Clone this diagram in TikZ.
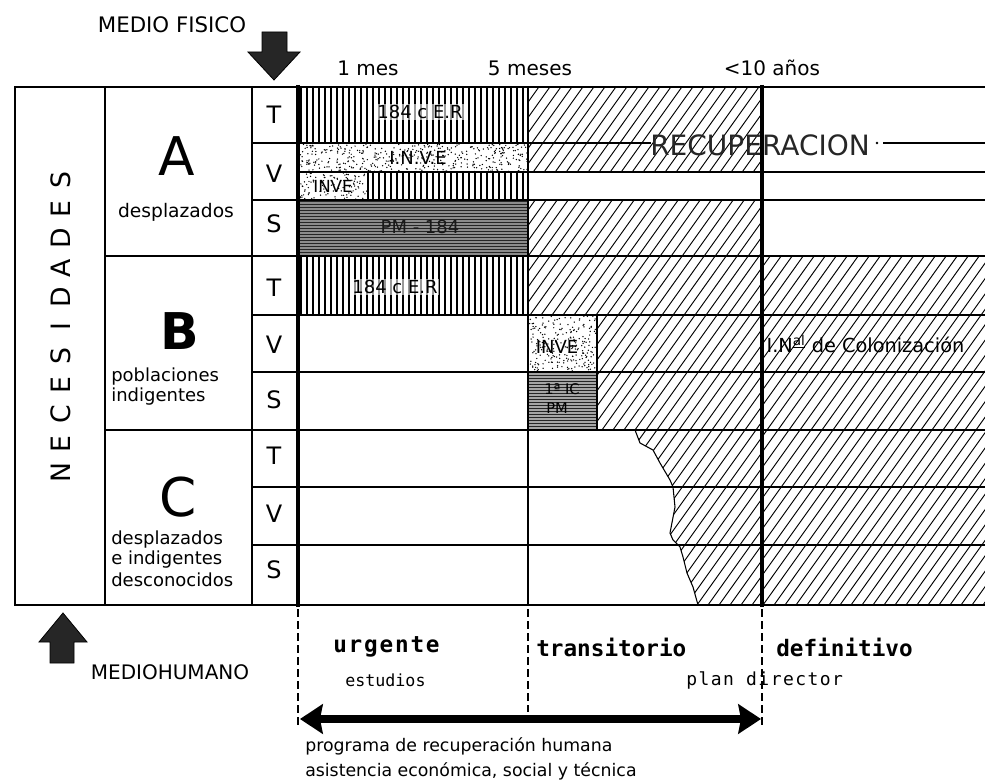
\documentclass[tikz,border=0pt]{standalone}
\usepackage{fontspec}
\setmainfont{DejaVu Sans}
\newfontfamily\monof{DejaVu Sans Mono}
\newfontfamily\monosp[LetterSpace=8]{DejaVu Sans Mono}
\usetikzlibrary{arrows.meta}
\newcommand\fsz[1]{\fontsize{#1}{#1}\selectfont}
\begin{document}
\begin{tikzpicture}[x=0.75pt,y=-0.75pt,
  gridl/.style={line width=1.5pt,line cap=rect},
  heavyline/.style={line width=3.6pt},
  hatchline/.style={line width=0.7pt},
  vhatch/.style={line width=1.3pt},
  hhatch/.style={line width=0.6pt,black!85},
  dashline/.style={line width=1.4pt,dash pattern=on 6pt off 3pt},
  lbl/.style={inner sep=1pt,font=\fsz{13.5}},
  tvs/.style={font=\fsz{18}},
  grp/.style={font=\fsz{40}},
  sub/.style={font=\fsz{13.5},anchor=west,inner sep=0pt},
  blockarrow/.style={fill=black!85,draw=black,line width=0.6pt}]
\useasboundingbox (0,0) rectangle (985,784);
\fill[white] (0,0) rectangle (985,784);

% ---------- diagonal hatching ----------
\begin{scope}
\clip (528,87) rectangle (762,172)
      (528,200) rectangle (762,315)
      (597,315) rectangle (762,430)
      (762,256) rectangle (990,605)
      (635,430) -- (640,443) -- (653,450) -- (660,463) -- (670,480) -- (673,487) -- (675,507) -- (670,533) -- (673,540) -- (680,547) -- (683,557) -- (687,573) -- (693,587) -- (698,605) -- (762,605) -- (762,430) -- cycle;
\foreach \x in {100,111,...,990} \draw[hatchline] (\x,640) -- ++(457,-640);
\end{scope}
\draw[line width=0.8pt] (635,430) -- (640,443) -- (653,450) -- (660,463) -- (670,480) -- (673,487) -- (675,507) -- (670,533) -- (673,540) -- (680,547) -- (683,557) -- (687,573) -- (693,587) -- (698,605);

% ---------- vertical hatching ----------
\begin{scope}
\clip (298,87) rectangle (528,143) (368,172) rectangle (528,200) (298,256) rectangle (528,315);
\foreach \x in {301,307,...,528} \draw[vhatch] (\x,80) -- (\x,320);
\end{scope}

% ---------- horizontal dense hatching ----------
\fill[black!45] (298,200) rectangle (528,256);
\fill[black!35] (528,372) rectangle (597,430);
\begin{scope}
\clip (298,200) rectangle (528,256) (528,372) rectangle (597,430);
\foreach \y in {201,204,...,430} \draw[hhatch] (290,\y) -- (600,\y);
\end{scope}

% ---------- stippled areas ----------
\pgfmathsetseed{12}
\foreach \i in {1,...,420} \fill ({298+230*rnd},{144+28*rnd}) circle[radius=0.55pt];
\foreach \i in {1,...,110} \fill ({299+68*rnd},{173+27*rnd}) circle[radius=0.55pt];
\foreach \i in {1,...,230} \fill ({529+67*rnd},{316+55*rnd}) circle[radius=0.55pt];
\draw[line width=1pt] (368,172) -- (368,200);
\draw[line width=1pt] (597,315) -- (597,430);

% ---------- grid ----------
\draw[gridl] (15,87) -- (985,87);
\draw[gridl] (15,605) -- (985,605);
\draw[gridl] (105,256) -- (985,256);
\draw[gridl] (105,430) -- (985,430);
\foreach \y in {200,315,372,487,545} \draw[gridl] (252,\y) -- (985,\y);
\draw[gridl] (252,143) -- (650,143);
\draw[gridl] (884,143) -- (985,143);
\fill (877,143) circle[radius=1.1pt];
\draw[line width=1.2pt] (298,172) -- (985,172);
\foreach \x in {15,105,252,528} \draw[gridl] (\x,87) -- (\x,605);
\draw[heavyline] (298,85) -- (298,607);
\draw[heavyline] (762,85) -- (762,607);

% ---------- lower dashed dividers ----------
\draw[dashline] (298,609) -- (298,725);
\draw[dashline] (528,609) -- (528,712);
\draw[dashline] (762,609) -- (762,725);

% ---------- block arrows ----------
\draw[blockarrow] (262,32) -- (287,32) -- (287,52) -- (300,52) -- (274,80) -- (248,52) -- (262,52) -- cycle;
\draw[blockarrow] (50,663) -- (74,663) -- (74,642) -- (87,642) -- (63,613) -- (39,642) -- (50,642) -- cycle;

% ---------- header texts ----------
\node[font=\fsz{16}] (medfis) at (172,25) {MEDIO FISICO};
\node[font=\fsz{15}] (t1) at (368,68) {1 mes};
\node[font=\fsz{15}] (t5) at (530,68) {5 meses};
\node[font=\fsz{15}] (t10) at (772,68) {<10 años};

% ---------- NECESIDADES ----------
\foreach \l [count=\i] in {N,E,C,E,S,I,D,A,D,E,S}
  \node[rotate=90,font=\fsz{20}] (nec\i) at (61,{473-(\i-1)*29.3}) {\l};

% ---------- group labels ----------
\node[grp] (ga) at (177,156) {A};
\node[font=\fsz{14}] (gad) at (176,212) {desplazados};
\node[grp,font=\bfseries\fsz{38}] (gb) at (180,331) {B};
\node[sub] (gb1) at (111,377) {poblaciones};
\node[sub] (gb2) at (111,397) {indigentes};
\node[grp] (gc) at (178,497) {C};
\node[sub] (gc1) at (111,540) {desplazados};
\node[sub] (gc2) at (111,560) {e indigentes};
\node[sub] (gc3) at (111,580) {desconocidos};

% ---------- T V S ----------
\node[tvs] (at) at (274,115) {T};
\node[tvs] (av) at (274,174) {V};
\node[tvs] (as) at (274,224) {S};
\node[tvs] (bt) at (274,288) {T};
\node[tvs] (bv) at (274,345) {V};
\node[tvs] (bs) at (274,400) {S};
\node[tvs] (ct) at (274,456) {T};
\node[tvs] (cv) at (274,514) {V};
\node[tvs] (cs) at (274,570) {S};

% ---------- labels inside the chart ----------
\node[lbl,fill=white,fill opacity=0.6,text opacity=1] (l1) at (420,112) {184 c E.R};
\node[lbl] (l2) at (418,158) {I.N.V.E};
\node[lbl,font=\fsz{12.5}] (l3) at (333,186) {INVE};
\node[lbl,text=black!90] (l4) at (420,227) {PM - 184};
\node[lbl,fill=white,fill opacity=0.6,text opacity=1] (l5) at (395,287) {184 c E.R};
\node[lbl] (l6) at (557,347) {INVE};
\node[lbl,font=\fsz{11}] (l7) at (562,389) {1ª IC};
\node[lbl,font=\fsz{11}] (l8) at (557,408) {PM};
\node[anchor=west,inner sep=1pt,font=\fsz{14.5}] (l9) at (765,344) {I.N\textsuperscript{\underline{al}} de Colonización};
\node[anchor=west,inner sep=0pt,font=\fsz{21},text=black!85] (rec) at (650,145) {RECUPERACION};

% ---------- bottom texts ----------
\node[anchor=west,inner sep=0pt,font=\monosp\bfseries\fsz{17}] (urg) at (333,647) {urgente};
\node[anchor=west,inner sep=0pt,font=\monof\bfseries\fsz{17}] (tra) at (536,647) {transitorio};
\node[anchor=west,inner sep=0pt,font=\monof\bfseries\fsz{17}] (def) at (776,647) {definitivo};
\node[anchor=west,inner sep=0pt,font=\monof\fsz{12.5}] (est) at (345,680) {estudios};
\node[anchor=west,inner sep=0pt,font=\monosp\fsz{13.5}] (pla) at (686,680) {plan director};
\node[font=\fsz{15}] (medhum) at (170,672) {MEDIOHUMANO};

\coordinate (arrL) at (300,719);
\coordinate (arrR) at (761,719);
\draw[line width=6pt,{Stealth[length=17pt,width=22pt,inset=2pt]}-{Stealth[length=17pt,width=22pt,inset=2pt]}] (arrL) -- (arrR);
\node[anchor=west,inner sep=0pt,font=\fsz{13}] (prog1) at (305,746) {programa de recuperación humana};
\node[anchor=west,inner sep=0pt,font=\fsz{13}] (prog2) at (305,771) {asistencia económica, social y técnica};
\end{tikzpicture}
\end{document}
